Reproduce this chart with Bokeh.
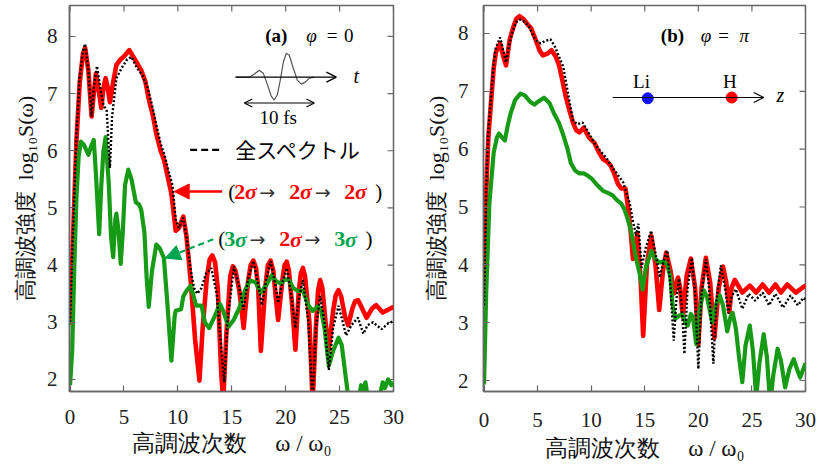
import numpy as np
from bokeh.plotting import figure
from bokeh.layouts import row
from bokeh.models import Label, Range1d, FixedTicker, Arrow, NormalHead, OpenHead
from bokeh.embed import file_html
from bokeh.resources import INLINE

# ---------------- data ----------------
x_ticks = [0, 5, 10, 15, 20, 25, 30]
y_ticks = [2, 3, 4, 5, 6, 7, 8]

# panel (a)  phi = 0
a_red_x = [0.0, 0.3, 0.6, 0.9, 1.2, 1.4, 1.7, 2.0, 2.2, 2.4, 2.7, 2.9, 3.1, 3.3, 3.5, 3.7, 4.0, 4.3, 4.7, 5.0,
           5.5, 6.0, 6.6, 7.0, 7.3, 7.7, 8.0, 8.4, 8.7, 9.0, 9.4, 9.8, 10.1, 10.5, 10.8, 11.2, 11.6, 12.0, 12.3, 12.7,
           12.95, 13.2, 13.45, 13.7, 14.0, 14.2, 14.5, 14.85, 15.1, 15.35, 15.7, 16.1, 16.5, 16.75, 17.0, 17.25, 17.45,
           17.7, 18.1, 18.35, 18.6, 18.85, 19.05, 19.3, 19.7, 19.9, 20.1, 20.3, 20.6, 20.9, 21.2, 21.4, 21.6, 21.8,
           22.2, 22.5, 22.8, 23.0, 23.2, 23.4, 23.7, 24.0, 24.4, 24.65, 24.9, 25.15, 25.5, 25.8, 26.2, 26.45, 26.7,
           26.95, 27.5, 28.0, 28.4, 29.0, 29.5, 30.0]
a_red_y = [2.95, 4.6, 6.2, 7.2, 7.7, 7.8, 7.4, 6.6, 7.0, 7.35, 7.0, 6.75, 7.1, 7.27, 7.1, 6.85, 7.2, 7.5, 7.6, 7.65,
           7.76, 7.6, 7.41, 7.2, 6.9, 6.6, 6.3, 6.0, 5.85, 5.6, 5.25, 4.6, 4.65, 4.85, 4.5, 3.7, 2.7, 1.98, 2.9, 3.8,
           4.1, 4.17, 4.05, 3.6, 2.2, 1.6, 2.8, 3.8, 3.98, 3.9, 3.55, 2.9, 3.7, 4.0, 4.08, 3.95, 3.6,
           2.5, 3.6, 4.0, 4.08, 3.9, 3.5, 3.04, 3.75, 4.0, 4.06, 3.9, 3.3, 2.52, 3.5, 3.85, 3.95, 3.8,
           3.0, 1.6, 2.9, 3.55, 3.74, 3.6, 3.0, 2.52, 3.2, 3.48, 3.56, 3.45, 3.1, 2.95, 3.25, 3.37, 3.39,
           3.3, 3.08, 3.24, 3.3, 3.17, 3.22, 3.27]

a_blk_x = [0.0, 0.3, 0.6, 0.9, 1.2, 1.4, 1.7, 2.0, 2.2, 2.5, 2.8, 3.1, 3.4, 3.7, 3.9, 4.3, 4.8, 5.3, 5.7, 6.2,
           6.7, 7.2, 7.6, 8.0, 8.4, 8.8, 9.2, 9.5, 9.8, 10.1, 10.5, 10.8, 11.2, 11.5, 11.8, 12.2, 12.6, 13.1, 13.6,
           14.0, 14.3, 14.6, 15.2, 15.7, 16.1, 16.5, 17.0, 17.4, 17.8, 18.2, 18.6, 19.0, 19.3, 19.7, 20.1, 20.5,
           20.9, 21.2, 21.6, 22.1, 22.5, 22.8, 23.2, 23.6, 24.0, 24.4, 24.9, 25.3, 25.6, 26.1, 26.7, 27.2, 27.6,
           28.1, 28.9, 29.5, 30.0]
a_blk_y = [3.0, 4.7, 6.3, 7.3, 7.75, 7.87, 7.4, 6.6, 7.1, 7.48, 7.1, 6.8, 6.7, 5.7, 6.6, 7.27, 7.45, 7.6, 7.64, 7.45,
           7.32, 7.1, 6.8, 6.45, 6.13, 5.9, 5.6, 5.4, 4.8, 4.65, 4.83, 4.5, 3.9, 3.6, 3.5, 3.6, 3.85, 3.95, 3.5,
           2.6, 1.95, 3.0, 3.98, 3.6, 3.22, 3.75, 4.07, 3.7, 3.3, 3.75, 4.07, 3.7, 3.34, 3.7, 3.95, 3.5,
           2.9, 3.4, 3.74, 3.0, 1.6, 2.9, 3.46, 3.0, 2.17, 2.9, 3.29, 3.0, 2.77, 2.95, 3.08, 2.8, 2.95,
           3.0, 2.88, 2.98, 3.02]

a_grn_x = [0.0, 0.2, 0.4, 0.6, 0.8, 1.0, 1.3, 1.7, 2.0, 2.2, 2.4, 2.7, 2.9, 3.1, 3.3, 3.6, 3.8, 4.0, 4.2, 4.3,
           4.5, 4.7, 4.9, 5.1, 5.4, 5.7, 6.1, 6.4, 6.6, 6.9, 7.1, 7.3, 7.6, 8.0, 8.3, 8.7, 9.0, 9.4, 9.7, 9.8, 10.3,
           10.5, 10.8, 11.2, 11.7, 12.2, 12.5, 12.9, 13.4, 13.9, 14.2, 14.7, 15.2, 15.7, 16.2, 16.7, 17.2, 17.7,
           18.2, 18.7, 19.1, 19.5, 20.0, 20.3, 20.7, 21.1, 21.6, 22.1, 22.5, 23.0, 23.3, 23.6, 24.0, 24.4, 24.9,
           25.2, 25.6, 25.8, 26.2, 26.8, 27.0, 27.2, 27.4, 27.6, 28.0, 28.7, 29.0, 29.2, 29.5, 29.8, 30.0]
a_grn_y = [1.9, 2.5, 4.0, 5.2, 5.9, 6.16, 6.1, 5.93, 6.1, 6.19, 5.6, 4.54, 5.4, 6.0, 6.24, 5.4, 4.5, 4.14, 4.8, 4.9,
           4.6, 4.02, 4.6, 5.4, 5.67, 5.5, 5.1, 5.06, 4.97, 4.57, 3.8, 3.27, 3.9, 4.36, 4.3, 4.13, 3.4, 2.33, 3.1, 3.2,
           3.23, 3.45, 3.55, 3.64, 3.29, 3.29, 3.0, 2.9, 3.1, 3.32, 3.2, 2.92, 3.05, 3.25, 3.55, 3.73, 3.7, 3.52,
           3.65, 3.82, 3.72, 3.68, 3.75, 3.74, 3.6, 3.55, 3.55, 3.3, 3.2, 3.28, 3.2, 2.9, 2.24, 2.5, 2.73,
           2.6, 2.0, 1.7, 1.5, 1.7, 1.9, 1.8, 1.95, 1.7, 1.5, 1.7, 1.95, 1.85, 2.0, 1.9, 1.95]

# panel (b)  phi = pi
b_red_x = [0.0, 0.2, 0.4, 0.65, 0.9, 1.1, 1.5, 1.8, 2.05, 2.4, 2.7, 3.0, 3.3, 3.7, 4.1, 4.4, 4.8, 5.2, 5.5, 5.9,
           6.3, 6.7, 7.0, 7.3, 7.6, 8.0, 8.3, 8.6, 8.9, 9.3, 9.8, 10.3, 10.7, 11.1, 11.5, 11.8, 12.1, 12.5, 12.8,
           13.2, 13.5, 13.7, 13.9, 14.1, 14.3, 14.6, 14.85, 15.2, 15.6, 16.0, 16.35, 16.7, 17.0, 17.4, 17.75, 18.1,
           18.3, 18.55, 18.9, 19.3, 19.7, 20.0, 20.3, 20.7, 21.1, 21.5, 21.9, 22.3, 22.6, 22.9, 23.1, 23.4, 24.1,
           24.8, 25.4, 26.0, 26.6, 27.2, 27.7, 28.3, 29.1, 29.9, 30.0]
b_red_y = [3.35, 5.25, 6.2, 6.8, 7.4, 7.67, 7.83, 7.6, 7.45, 7.9, 8.09, 8.25, 8.3, 8.25, 8.15, 8.09, 7.9, 7.7, 7.62, 7.65,
           7.71, 7.6, 7.45, 7.2, 6.93, 6.65, 6.46, 6.33, 6.29, 6.37, 6.2, 6.11, 5.95, 5.83, 5.78, 5.72, 5.6, 5.4, 5.32,
           5.32, 4.9, 4.54, 4.1, 4.3, 4.54, 3.8, 2.77, 4.0, 4.5, 4.0, 3.22, 3.9, 4.21, 3.9, 3.51, 3.78,
           3.6, 3.1, 3.8, 4.11, 3.6, 2.62, 3.6, 4.12, 3.7, 2.74, 3.6, 3.97, 3.7, 3.19, 3.6, 3.74, 3.52,
           3.64, 3.52, 3.66, 3.52, 3.66, 3.52, 3.66, 3.52, 3.63, 3.6]

b_blk_x = [0.0, 0.2, 0.4, 0.65, 0.9, 1.1, 1.5, 1.8, 2.05, 2.4, 2.7, 3.0, 3.4, 3.8, 4.2, 4.6, 5.0, 5.3, 5.7, 6.2,
           6.6, 7.0, 7.4, 7.8, 8.3, 8.7, 9.2, 9.7, 10.3, 10.8, 11.4, 12.0, 12.5, 13.0, 13.6, 13.9, 14.2, 14.4, 14.7,
           15.1, 15.6, 16.0, 16.4, 16.8, 17.1, 17.4, 17.7, 17.95, 18.2, 18.45, 18.7, 19.0, 19.4, 19.7, 20.0, 20.3,
           20.7, 21.0, 21.4, 21.7, 22.1, 22.5, 22.8, 23.1, 23.5, 24.1, 24.7, 25.3, 26.0, 26.6, 27.2, 27.9, 28.6,
           29.3, 29.8, 30.0]
b_blk_y = [3.3, 5.3, 6.3, 6.9, 7.5, 7.75, 7.93, 7.7, 7.5, 7.85, 8.05, 8.2, 8.24, 8.2, 8.12, 7.95, 7.85, 7.83, 7.87, 7.9,
           7.78, 7.6, 7.42, 7.0, 6.5, 6.43, 6.46, 6.3, 6.1, 5.98, 5.85, 5.68, 5.55, 5.42, 5.06, 4.75, 4.5, 4.71, 3.95,
           4.3, 4.59, 4.2, 3.78, 4.1, 4.25, 3.6, 2.69, 3.4, 3.76, 3.3, 2.46, 3.6, 4.12, 3.5, 2.2, 3.5,
           4.1, 3.6, 2.29, 3.4, 3.99, 3.6, 3.16, 3.45, 3.58, 3.24, 3.5, 3.38, 3.52, 3.3, 3.5, 3.26, 3.47,
           3.3, 3.43, 3.4]

b_grn_x = [0.0, 0.2, 0.5, 0.9, 1.2, 1.4, 1.7, 1.95, 2.2, 2.5, 2.9, 3.4, 3.8, 4.3, 4.7, 5.1, 5.6, 6.1, 6.5, 7.0,
           7.4, 7.8, 8.1, 8.5, 8.9, 9.3, 9.7, 10.1, 10.6, 11.1, 11.6, 12.0, 12.4, 12.8, 13.1, 13.4, 13.7, 13.9, 14.2,
           14.5, 14.8, 15.1, 15.6, 16.0, 16.4, 16.8, 17.1, 17.4, 17.6, 17.85, 18.2, 18.5, 18.8, 19.0, 19.3, 19.5,
           19.8, 20.1, 20.5, 20.8, 21.3, 21.6, 22.0, 22.3, 22.7, 23.0, 23.2, 23.5, 23.8, 24.1, 24.4, 24.8, 25.1,
           25.4, 25.7, 26.1, 26.4, 26.7, 27.0, 27.4, 27.7, 28.1, 28.5, 28.9, 29.2, 29.5, 29.8, 30.0]
b_grn_y = [1.93, 3.5, 5.07, 5.94, 6.2, 6.27, 6.2, 6.15, 6.4, 6.63, 6.85, 6.96, 6.93, 6.82, 6.77, 6.83, 6.89, 6.8, 6.63, 6.45,
           6.24, 6.0, 5.76, 5.63, 5.58, 5.58, 5.54, 5.48, 5.37, 5.28, 5.24, 5.2, 5.12, 5.06, 4.96, 4.8, 4.6, 4.4, 4.1,
           3.87, 3.57, 3.95, 4.24, 4.1, 4.04, 4.06, 4.0, 3.78, 3.3, 3.07, 3.12, 3.15, 3.0, 2.95, 3.15, 3.1,
           2.63, 3.2, 3.56, 3.45, 3.0, 3.3, 3.47, 3.3, 2.85, 3.1, 3.17, 2.9, 2.4, 1.97, 2.6, 2.95, 2.5,
           1.7, 2.3, 2.8, 2.4, 1.6, 2.1, 2.55, 2.35, 1.88, 2.2, 2.37, 2.2, 2.05, 2.2, 2.3]

# schematic pulse of the inset in panel (a)
pulse_t = [15.41, 16.62, 17.08, 17.55, 17.92, 18.29, 18.66, 18.94, 19.22, 19.50, 19.78, 20.06, 20.33, 20.71,
           21.08, 21.45, 21.82, 22.19, 22.66]
pulse_e = [7.287, 7.287, 7.339, 7.409, 7.357, 7.165, 6.957, 6.887, 6.974, 7.235, 7.548, 7.704, 7.670, 7.443,
           7.235, 7.165, 7.200, 7.270, 7.287]

NB = "\u00a0"
y_title = "高調波強度" + NB * 2 + "log₁₀S(ω)"
x_title = "高調波次数" + NB * 5 + "ω" + NB + "/" + NB + "ω₀"

RED = "#ff0000"
GREEN = "#179b17"
TGREEN = "#00a550"
FRAME = "#666666"
SERIF = "Liberation Serif"
JP = "Noto Sans CJK JP"
ARROWFONT = "DejaVu Sans"


def make_fig(width, height, ml, mr, mt, mb, xr, yr, ystand, xstand, xlstand):
    p = figure(width=width, height=height, x_range=Range1d(*xr), y_range=Range1d(*yr),
               output_backend="svg", toolbar_location=None,
               min_border_left=ml, min_border_right=mr, min_border_top=mt, min_border_bottom=mb)
    p.grid.visible = False
    p.outline_line_color = FRAME
    p.outline_line_width = 1.5
    p.xaxis.ticker = FixedTicker(ticks=x_ticks)
    p.yaxis.ticker = FixedTicker(ticks=y_ticks)
    for ax in (p.xaxis[0], p.yaxis[0]):
        ax.axis_line_color = FRAME
        ax.axis_line_width = 1.5
        ax.major_tick_line_color = FRAME
        ax.major_tick_line_width = 1.2
        ax.major_tick_in = 6
        ax.major_tick_out = 0
        ax.minor_tick_line_color = None
        ax.major_label_text_font = SERIF
        ax.major_label_text_font_size = "21px"
        ax.major_label_text_color = "#222222"
        ax.axis_label_text_font = SERIF
        ax.axis_label_text_font_style = "normal"
        ax.axis_label_text_color = "#111111"
    p.xaxis.major_label_standoff = xstand
    p.yaxis.major_label_standoff = ystand
    p.xaxis.axis_label = x_title
    p.yaxis.axis_label = y_title
    p.xaxis.axis_label_text_font_size = "23px"
    p.yaxis.axis_label_text_font_size = "22px"
    p.xaxis.axis_label_standoff = xlstand
    p.yaxis.axis_label_standoff = 6
    # mirrored inward ticks on the top and right edges of the frame
    x0, x1 = xr
    y0, y1 = yr
    dy = 6 * (y1 - y0) / (height - mt - mb)
    dx = 6 * (x1 - x0) / (width - ml - mr)
    p.segment(x0=x_ticks, y0=[y1] * len(x_ticks), x1=x_ticks, y1=[y1 - dy] * len(x_ticks),
              line_color=FRAME, line_width=1.2)
    p.segment(x0=[x1] * len(y_ticks), y0=y_ticks, x1=[x1 - dx] * len(y_ticks), y1=y_ticks,
              line_color=FRAME, line_width=1.2)
    return p


def lab(p, x, y, text, size=19, color="black", style="normal", font=SERIF, align="left",
        baseline="middle"):
    p.add_layout(Label(x=x, y=y, text=text, text_font_size=f"{size}px", text_color=color,
                       text_font_style=style, text_font=font, text_align=align,
                       text_baseline=baseline))


def curves(p, rx, ry, gx, gy, kx, ky):
    p.line(rx, ry, line_color=RED, line_width=4.6, line_join="round")
    p.line(gx, gy, line_color=GREEN, line_width=4.2, line_join="round")
    p.line(kx, ky, line_color="black", line_width=2.4, line_dash="2 2")


# ---------------- panel (a) ----------------
pa = make_fig(412, 468, 69, 19, 5, 74, (-0.05, 30), (1.79, 8.54), 12, 18, 4)
curves(pa, a_red_x, a_red_y, a_grn_x, a_grn_y, a_blk_x, a_blk_y)

lab(pa, 18.1, 8.02, "(a)", style="bold")
lab(pa, 21.9, 8.02, "φ", style="italic")
lab(pa, 23.8, 8.02, "=")
lab(pa, 25.4, 8.02, "0")

pa.line(pulse_t, pulse_e, line_color="#555555", line_width=1.2)
pa.add_layout(Arrow(end=OpenHead(size=10, line_color="black", line_width=1.2),
                    x_start=15.32, y_start=7.287, x_end=24.7, y_end=7.287, line_width=1.2))
lab(pa, 26.3, 7.3, "t", size=20, style="italic")
pa.add_layout(Arrow(start=OpenHead(size=8, line_color="black", line_width=1.2),
                    end=OpenHead(size=8, line_color="black", line_width=1.2),
                    x_start=16.16, y_start=6.835, x_end=22.66, y_end=6.835, line_width=1.2))
lab(pa, 19.3, 6.59, "10 fs", size=19, align="center")

pa.line([11.14, 13.93], [6.017, 6.017], line_color="black", line_width=2.2, line_dash="7 4")
lab(pa, 15.32, 6.03, "全スペクトル", size=21, font=JP)

pa.add_layout(Arrow(end=NormalHead(size=15, fill_color=RED, line_color=RED),
                    x_start=14.11, y_start=5.287, x_end=9.66, y_end=5.287,
                    line_color=RED, line_width=2.5))
yr_ = 5.287
lab(pa, 14.67, yr_, "(", size=21)
for xs, xa in ((15.23, 17.55), (20.33, 22.7), (25.44, None)):
    lab(pa, xs, yr_, "2", size=22, color=RED, style="bold")
    lab(pa, xs + 1.0, yr_, "σ", size=22, color=RED, style="bold italic")
    if xa is not None:
        lab(pa, xa, yr_, "→", size=19, color="#333333", font=ARROWFONT)
lab(pa, 28.3, yr_, ")", size=21)

pa.add_layout(Arrow(end=NormalHead(size=15, fill_color=TGREEN, line_color=TGREEN),
                    x_start=13.28, y_start=4.452, x_end=8.82, y_end=4.122,
                    line_color=TGREEN, line_width=2.2, line_dash="6 4"))
yg_ = 4.452
lab(pa, 13.74, yg_, "(", size=21)
for xs, xa, c, t in ((14.30, 16.65, TGREEN, "3"), (19.41, 21.75, RED, "2"), (24.51, None, TGREEN, "3")):
    lab(pa, xs, yg_, t, size=22, color=c, style="bold")
    lab(pa, xs + 1.0, yg_, "σ", size=22, color=c, style="bold italic")
    if xa is not None:
        lab(pa, xa, yg_, "→", size=19, color="#333333", font=ARROWFONT)
lab(pa, 27.4, yg_, ")", size=21)

# ---------------- panel (b) ----------------
pb = make_fig(412, 468, 71, 19, 5, 77, (-0.05, 30), (1.81, 8.484), 15, 21, 6)
curves(pb, b_red_x, b_red_y, b_grn_x, b_grn_y, b_blk_x, b_blk_y)

lab(pb, 16.5, 7.965, "(b)", style="bold")
lab(pb, 20.22, 7.965, "φ", style="italic")
lab(pb, 21.85, 7.965, "=")
lab(pb, 23.85, 7.965, "π", style="italic")

pb.add_layout(Arrow(end=OpenHead(size=10, line_color="black", line_width=1.2),
                    x_start=12.02, y_start=6.893, x_end=26.1, y_end=6.893, line_width=1.2))
lab(pb, 27.3, 6.93, "z", size=20, style="italic")
pb.scatter([15.28], [6.88], size=11, color="#1010ff")
pb.scatter([23.11], [6.893], size=11, color=RED)
lab(pb, 14.7, 7.17, "Li", size=19, align="center")
lab(pb, 22.93, 7.17, "H", size=19, align="center")

layout = row(pa, pb)
open("out.html", "w").write(file_html(layout, INLINE))
